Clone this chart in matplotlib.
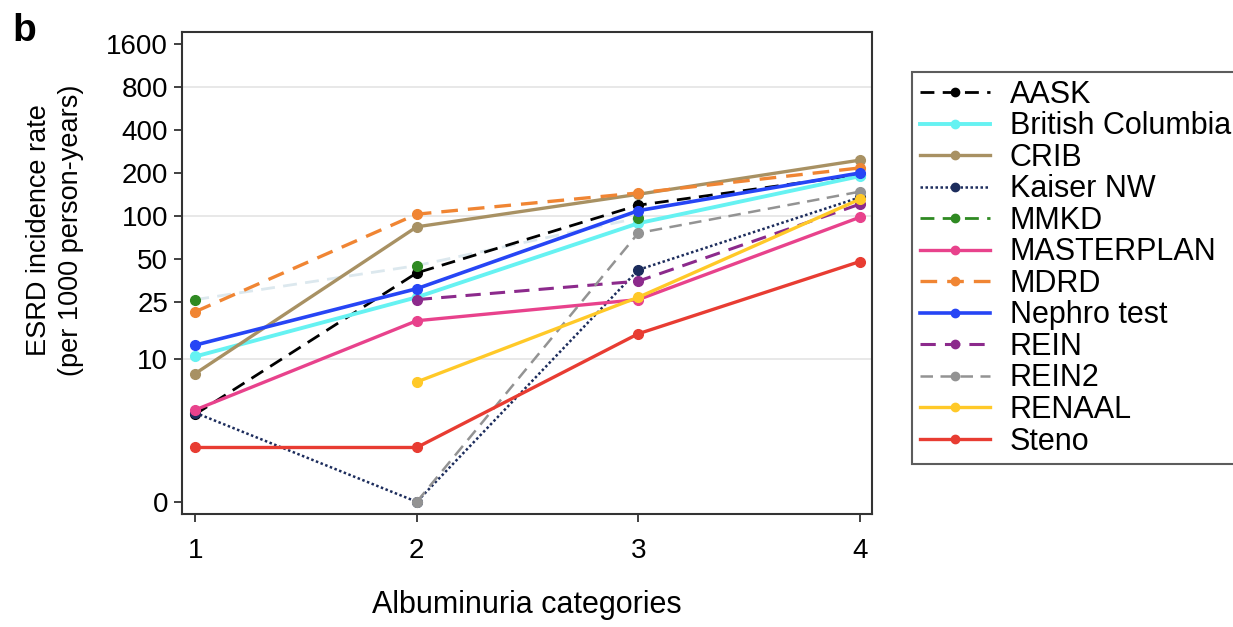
import numpy as np
import matplotlib.pyplot as plt
from matplotlib.lines import Line2D

plt.rcParams['font.family'] = ['Liberation Sans', 'DejaVu Sans']

# albuminuria categories and ESRD incidence per study (None = not reported)
categories = [1, 2, 3, 4]
aask = [4.1, 40, 119, 195]
british_columbia = [10.4, 27, 89, 190]
crib = [7.9, 84, 142, 246]
kaiser_nw = [4.2, 0, 42, 135]
mmkd = [26, 45, 97, None]
masterplan = [4.4, 18.5, 26, 98]
mdrd = [21.4, 103, 145, 217]
nephro_test = [12.5, 31, 109, 200]
rein = [None, 26, 35, 121]
rein2 = [None, 0, 76, 148]
renaal = [None, 6.9, 27, 131]
steno = [2.4, 2.4, 15, 48]

yticks = [1, 10, 25, 50, 100, 200, 400, 800, 1600]
ytick_labels = ['0', '10', '25', '50', '100', '200', '400', '800', '1600']

# name, data, colour, linestyle, linewidth
series = [
    ('AASK', aask, 'black', (0, (5, 3)), 2.0),
    ('British Columbia', british_columbia, '#66f2f2', '-', 2.8),
    ('CRIB', crib, '#a89163', '-', 2.4),
    ('Kaiser NW', kaiser_nw, '#1c2c5c', (0, (1, 1)), 1.8),
    ('MMKD', mmkd, '#2f8a22', (0, (5, 3)), 2.0),
    ('MASTERPLAN', masterplan, '#e8428c', '-', 2.4),
    ('MDRD', mdrd, '#f08533', (0, (5, 3)), 2.4),
    ('Nephro test', nephro_test, '#2645f5', '-', 2.6),
    ('REIN', rein, '#8c2a8c', (0, (5, 3)), 2.2),
    ('REIN2', rein2, '#939393', (0, (5, 3)), 1.8),
    ('RENAAL', renaal, '#ffc928', '-', 2.4),
    ('Steno', steno, '#e83c32', '-', 2.4),
]

fig = plt.figure(figsize=(12.33, 6.27), dpi=100)
ax = fig.add_axes([0.1476, 0.180, 0.5596, 0.769])

for yv in [10, 100, 800]:
    ax.axhline(yv, color='#e4e4e4', lw=1.2, zorder=0)

handles = []
for name, vals, col, ls, lw in series:
    x = np.array([c for c, v in zip(categories, vals) if v is not None], dtype=float)
    y = np.array([v for v in vals if v is not None], dtype=float)
    y = np.where(y == 0, 1, y)  # zero drawn at the "0" tick
    if name == 'MMKD':
        # line is drawn very faintly in the original
        ax.plot(x, y, color='#dce8ee', ls=ls, lw=lw, zorder=1)
        ax.plot(x, y, 'o', color=col, ms=7, zorder=2)
    else:
        ax.plot(x, y, color=col, ls=ls, lw=lw, marker='o', ms=7, zorder=2)
    handles.append(Line2D([], [], color=col, ls=ls, lw=lw, marker='o', ms=6, label=name))

ax.set_yscale('log')
ax.set_ylim(0.82, 1940)
ax.set_xlim(0.94, 4.055)
ax.set_yticks(yticks)
ax.set_yticklabels(ytick_labels)
ax.minorticks_off()
ax.set_xticks(categories)
ax.tick_params(labelsize=20, length=6, width=1.3, color='#333333')
ax.tick_params(axis='x', pad=11)
ax.tick_params(axis='y', pad=4)
for s in ax.spines.values():
    s.set_linewidth(1.5)
    s.set_color('#333333')

ax.set_xlabel('Albuminuria categories', fontsize=22, labelpad=19)
fig.text(0.045, 0.633, 'ESRD incidence rate\n(per 1000 person-years)', fontsize=19.5,
         rotation=90, ha='center', va='center', multialignment='center', linespacing=1.3)

fig.text(0.010, 0.950, 'b', fontsize=28, fontweight='bold', va='center')

leg = fig.legend(handles=handles, loc='upper left', bbox_to_anchor=(0.7397, 0.885),
                 borderaxespad=0, fontsize=22, frameon=True, fancybox=False,
                 edgecolor='#333333', handlelength=2.3, labelspacing=0.05,
                 borderpad=0.25, handletextpad=0.65)
leg.get_frame().set_linewidth(1.5)

plt.savefig('out.png', dpi=100)
